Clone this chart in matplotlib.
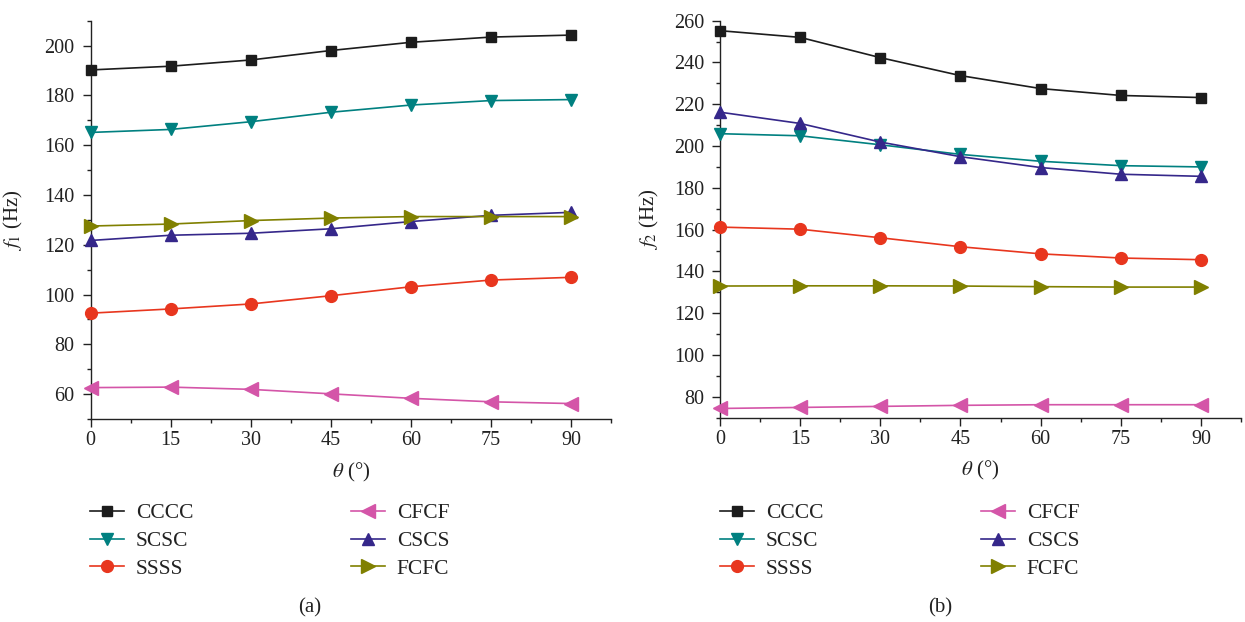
import matplotlib
matplotlib.use("Agg")
import matplotlib.pyplot as plt
from matplotlib.ticker import MultipleLocator

plt.rcParams["font.family"] = ["Liberation Serif", "DejaVu Serif"]
plt.rcParams["mathtext.fontset"] = "stix"

theta = [0, 15, 30, 45, 60, 75, 90]
labels = ["CCCC", "SCSC", "SSSS", "CFCF", "CSCS", "FCFC"]

# First natural frequency f1 (Hz)
f1_cccc = [190.2, 191.7, 194.2, 198.0, 201.3, 203.4, 204.2]
f1_scsc = [165.1, 166.3, 169.4, 173.2, 176.1, 177.9, 178.3]
f1_ssss = [92.5, 94.2, 96.2, 99.5, 103.1, 105.8, 106.9]
f1_cfcf = [62.6, 62.8, 61.9, 60.1, 58.3, 56.9, 56.2]
f1_cscs = [121.7, 123.8, 124.6, 126.4, 129.3, 131.8, 133.0]
f1_fcfc = [127.5, 128.3, 129.7, 130.7, 131.3, 131.3, 131.3]

# Second natural frequency f2 (Hz)
f2_cccc = [255.2, 252.0, 242.3, 233.7, 227.5, 224.2, 223.2]
f2_scsc = [205.9, 204.9, 200.6, 196.0, 192.7, 190.6, 190.0]
f2_ssss = [161.2, 160.2, 156.1, 151.8, 148.4, 146.4, 145.6]
f2_cfcf = [74.4, 74.9, 75.4, 75.9, 76.2, 76.2, 76.2]
f2_cscs = [216.2, 210.8, 201.9, 194.9, 189.7, 186.5, 185.5]
f2_fcfc = [133.0, 133.1, 133.1, 133.0, 132.7, 132.5, 132.5]

colors = ["#1c1c1c", "#008080", "#e8361e", "#d455a8", "#35278a", "#808000"]
markers = ["s", "v", "o", "<", "^", ">"]
msizes = [7.3, 8.5, 8.5, 9.5, 9, 9.5]

fig = plt.figure(figsize=(12.45, 6.22), dpi=100)
ax1 = fig.add_axes([0.0727, 0.3264, 0.4181, 0.6404])
ax2 = fig.add_axes([0.5783, 0.3285, 0.4185, 0.6383])

INK = "#222222"


def draw(ax, series, ylim, ylabel, ylab_x, caption, legend_x, caption_x):
    handles = []
    for vals, c, m, ms, lab in zip(series, colors, markers, msizes, labels):
        h, = ax.plot(theta, vals, color=c, marker=m, markersize=ms, lw=1.2,
                     label=lab, clip_on=False, zorder=3)
        handles.append(h)
    ax.set_xlim(0, 97.5)
    ax.set_ylim(*ylim)
    ax.xaxis.set_major_locator(MultipleLocator(15))
    ax.xaxis.set_minor_locator(MultipleLocator(7.5))
    ax.yaxis.set_major_locator(MultipleLocator(20))
    ax.yaxis.set_minor_locator(MultipleLocator(10))
    for s in ("top", "right"):
        ax.spines[s].set_visible(False)
    for s in ("left", "bottom"):
        ax.spines[s].set_linewidth(1.0)
        ax.spines[s].set_color(INK)
    ax.tick_params(which="major", direction="out", length=5.5, width=1,
                   labelsize=14.5, colors=INK)
    ax.tick_params(which="minor", direction="out", length=3.2, width=1,
                   colors=INK)
    ax.tick_params(axis="x", which="major", pad=3.5)
    ax.tick_params(axis="y", which="major", pad=6)
    ax.set_xlabel(r"$\theta$ (°)", fontsize=15, color=INK)
    ax.xaxis.set_label_coords(0.5, -0.105)
    ax.set_ylabel(ylabel, fontsize=15, color=INK)
    ax.yaxis.set_label_coords(ylab_x, 0.5)
    ax.legend(handles=handles, loc="upper left", ncol=2, frameon=False,
              bbox_to_anchor=(legend_x, 0.191), bbox_transform=fig.transFigure,
              fontsize=15.5, handlelength=1.58, handletextpad=0.56,
              columnspacing=7.3, labelspacing=0.36, borderpad=0,
              borderaxespad=0, labelcolor=INK)
    fig.text(caption_x, 0.023, caption, ha="center", va="center",
             fontsize=15, color=INK)


draw(ax1, [f1_cccc, f1_scsc, f1_ssss, f1_cfcf, f1_cscs, f1_fcfc],
     (50, 210), r"$f_1$ (Hz)", -0.126, "(a)", 0.0723, 0.249)
draw(ax2, [f2_cccc, f2_scsc, f2_ssss, f2_cfcf, f2_cscs, f2_fcfc],
     (70, 260), r"$f_2$ (Hz)", -0.113, "(b)", 0.5783, 0.755)

fig.savefig("out.png", dpi=100)
